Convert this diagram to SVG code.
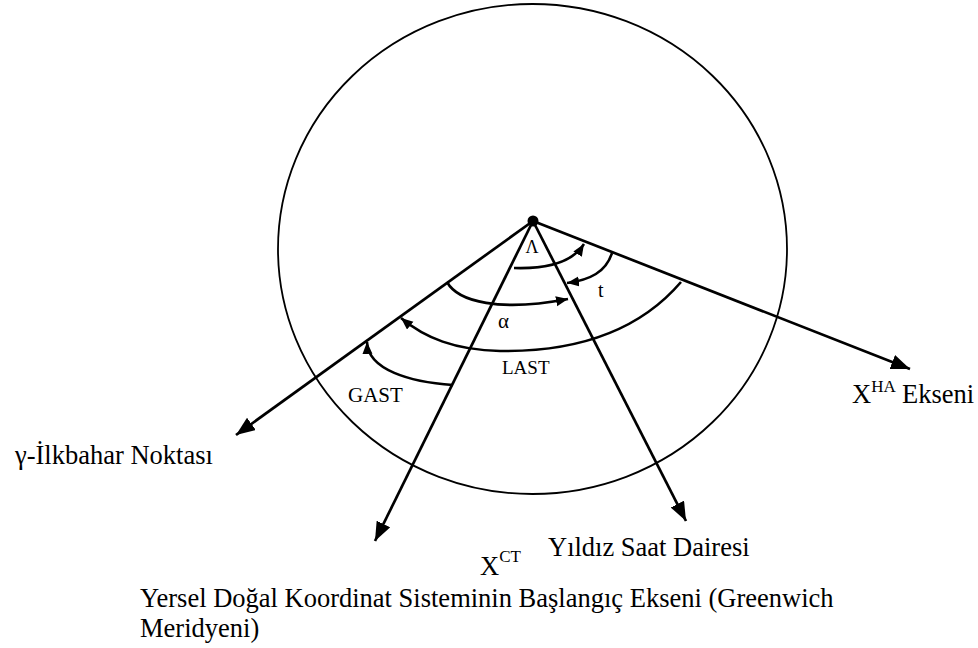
<svg xmlns="http://www.w3.org/2000/svg" width="978" height="648" viewBox="0 0 978 648">
<style>
.ax{stroke:#000;stroke-width:2.7;fill:none}
.arc{stroke:#000;stroke-width:2.6;fill:none}
.lbl{font-family:"Liberation Serif","Times New Roman","DejaVu Serif",serif;fill:#000}
.big{font-size:26.5px}
</style>
<defs>
<marker id="bigArrow" markerUnits="userSpaceOnUse" markerWidth="20" markerHeight="16" refX="19" refY="7.5" orient="auto" viewBox="0 0 20 16">
<path d="M0,0 L19,7.5 L0,15 z" fill="#000"/>
</marker>
<marker id="smallArrow" markerUnits="userSpaceOnUse" markerWidth="13" markerHeight="11" refX="12" refY="5" orient="auto" viewBox="0 0 13 11">
<path d="M0,0 L12,5 L0,10 z" fill="#000"/>
</marker>
</defs>
<rect width="978" height="648" fill="#fff"/>
<g id="sphere">
<ellipse cx="532.5" cy="249" rx="254.5" ry="245" fill="none" stroke="#000" stroke-width="1.8"/>
</g>
<g id="connectors">
<line class="ax" x1="533" y1="221" x2="236" y2="435" marker-end="url(#bigArrow)"/>
<line class="ax" x1="533" y1="221" x2="375" y2="541" marker-end="url(#bigArrow)"/>
<line class="ax" x1="533" y1="221" x2="686" y2="521" marker-end="url(#bigArrow)"/>
<line class="ax" x1="533" y1="221" x2="910" y2="369" marker-end="url(#bigArrow)"/>
</g>
<g id="angles">
<path id="arc-lambda" class="arc" d="M514,268 C545,269 572,263 584,244" marker-end="url(#smallArrow)"/>
<path id="arc-t" class="arc" d="M612,253 C606,272 590,280 567,283" marker-end="url(#smallArrow)"/>
<path id="arc-alpha" class="arc" d="M447,282 C458,302 500,312 568,299" marker-end="url(#smallArrow)"/>
<path id="arc-last" class="arc" d="M681,282 C640,330 580,352 500,351 C455,350 425,338 401,318" marker-end="url(#smallArrow)"/>
<path id="arc-gast" class="arc" d="M453,385 C410,382 368,370 367,342" marker-end="url(#smallArrow)"/>
</g>
<g id="origin">
<circle cx="533" cy="221" r="5.5" fill="#000"/>
</g>
<g id="label-lambda"><text class="lbl" font-family="Liberation Serif, serif" x="532" y="253" font-size="18" text-anchor="middle">Λ</text></g>
<g id="label-t"><text class="lbl" font-family="Liberation Serif, serif" x="598" y="297" font-size="20">t</text></g>
<g id="label-alpha"><text class="lbl" font-family="Liberation Serif, serif" x="498" y="328" font-size="21">α</text></g>
<g id="label-last"><text class="lbl" font-family="Liberation Serif, serif" x="502" y="374" font-size="19">LAST</text></g>
<g id="label-gast"><text class="lbl" font-family="Liberation Serif, serif" x="348" y="402" font-size="21">GAST</text></g>
<g id="label-gamma"><text class="lbl big" font-family="Liberation Serif, serif" x="15" y="464">γ-İlkbahar Noktası</text></g>
<g id="label-xha"><text class="lbl big" font-family="Liberation Serif, serif" x="852" y="403">X<tspan font-size="17" dy="-11">HA</tspan></text><text class="lbl big" font-family="Liberation Serif, serif" x="902" y="403">Ekseni</text></g>
<g id="label-xct"><text class="lbl big" font-family="Liberation Serif, serif" x="480" y="575">X<tspan font-size="17" dy="-13">CT</tspan></text></g>
<g id="label-yildiz"><text class="lbl big" font-family="Liberation Serif, serif" x="548" y="556">Yıldız Saat Dairesi</text></g>
<g id="label-greenwich"><text class="lbl big" font-family="Liberation Serif, serif" x="140" y="607">Yersel Doğal Koordinat Sisteminin Başlangıç Ekseni (Greenwich</text><text class="lbl big" font-family="Liberation Serif, serif" x="140" y="637">Meridyeni)</text></g>
</svg>
